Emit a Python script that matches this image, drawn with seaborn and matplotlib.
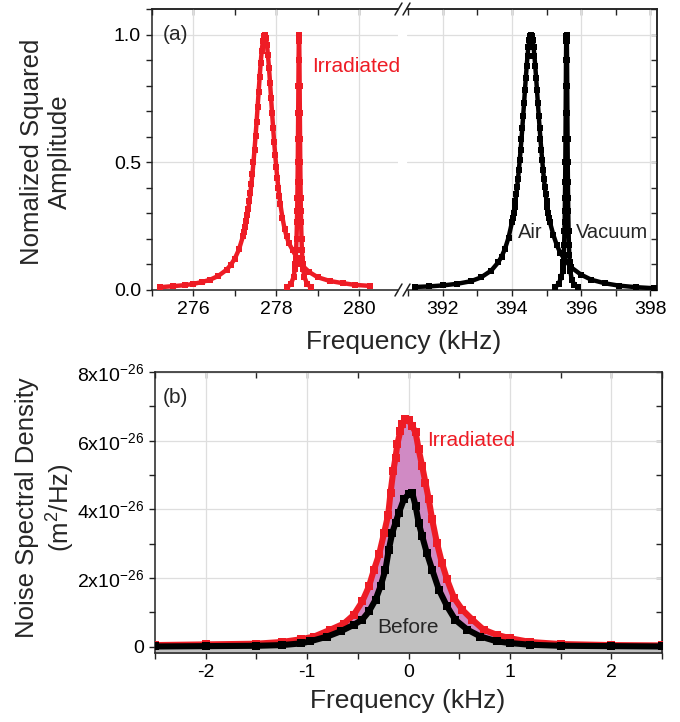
import seaborn as sns
import matplotlib.pyplot as plt
from matplotlib.ticker import MultipleLocator, FixedLocator

sns.set_style('ticks')
plt.rcParams['font.family'] = ['Liberation Sans', 'DejaVu Sans']
plt.rcParams['mathtext.fontset'] = 'custom'
plt.rcParams['mathtext.rm'] = 'Liberation Sans'
plt.rcParams['mathtext.it'] = 'Liberation Sans:italic'
plt.rcParams['mathtext.bf'] = 'Liberation Sans:bold'
plt.rcParams['axes.unicode_minus'] = False

RED = '#ee1c25'
BLACK = '#000000'
PURPLE = '#d08ac4'
GRAY = '#c0c0c0'

# ---- panel (a): normalized squared amplitude vs frequency (kHz) ----
irr_air_f = [275.2, 275.5, 275.8, 276.0, 276.2, 276.4, 276.6, 276.8, 276.9, 277.0, 277.1,
             277.2, 277.225, 277.25, 277.275, 277.3, 277.325, 277.35, 277.375, 277.4,
             277.425, 277.45, 277.475, 277.5, 277.525, 277.55, 277.575, 277.6, 277.625,
             277.65, 277.675, 277.7, 277.725, 277.75, 277.775, 277.8, 277.825, 277.85,
             277.875, 277.9, 277.925, 277.95, 277.975, 278.0, 278.025, 278.05, 278.075,
             278.1, 278.15, 278.2, 278.25, 278.3, 278.4, 278.5, 278.6, 278.8, 279.0,
             279.3, 279.6, 279.9, 280.27]
irr_air_a = [0.011, 0.015, 0.019, 0.024, 0.031, 0.040, 0.055, 0.079, 0.098, 0.123, 0.159,
             0.212, 0.229, 0.248, 0.269, 0.292, 0.318, 0.347, 0.380, 0.416,
             0.456, 0.500, 0.549, 0.601, 0.657, 0.716, 0.776, 0.835, 0.890,
             0.937, 0.973, 0.995, 1.000, 0.988, 0.960, 0.919, 0.869, 0.812,
             0.752, 0.692, 0.634, 0.579, 0.528, 0.482, 0.439, 0.401, 0.367,
             0.335, 0.283, 0.240, 0.210, 0.185, 0.155, 0.125, 0.100, 0.070, 0.050,
             0.035, 0.027, 0.020, 0.016]

irr_vac_f = [278.25, 278.35, 278.42, 278.45, 278.46, 278.47, 278.48, 278.49, 278.5,
             278.505, 278.51, 278.515, 278.52, 278.525, 278.53, 278.535, 278.54, 278.545,
             278.55, 278.555, 278.56, 278.565, 278.57, 278.575, 278.58, 278.585,
             278.59, 278.595, 278.6, 278.61, 278.62, 278.63, 278.64, 278.65, 278.68,
             278.75, 278.85]
irr_vac_a = [0.010, 0.022, 0.051, 0.083, 0.100, 0.123, 0.155, 0.200, 0.265,
             0.308, 0.360, 0.424, 0.500, 0.590, 0.692, 0.800, 0.900, 0.973,
             1.000, 0.973, 0.900, 0.800, 0.692, 0.590, 0.500, 0.424,
             0.360, 0.308, 0.265, 0.200, 0.155, 0.123, 0.100, 0.083, 0.051,
             0.022, 0.010]

air_f = [391.2, 391.6, 392.0, 392.4, 392.8, 393.1, 393.4, 393.6, 393.7, 393.8, 393.9,
         394.0, 394.025, 394.05, 394.075, 394.1, 394.125, 394.15, 394.175, 394.2,
         394.225, 394.25, 394.275, 394.3, 394.325, 394.35, 394.375, 394.4, 394.425,
         394.45, 394.475, 394.5, 394.525, 394.55, 394.575, 394.6, 394.625, 394.65,
         394.675, 394.7, 394.725, 394.75, 394.775, 394.8, 394.825, 394.85, 394.875,
         394.9, 394.925, 394.95, 394.975, 395.0, 395.025, 395.05, 395.075, 395.1,
         395.2, 395.3, 395.4, 395.5, 395.7, 396.0, 396.3, 396.7, 397.1, 397.6, 398.1]
air_a = [0.012, 0.014, 0.018, 0.024, 0.034, 0.049, 0.076, 0.108, 0.131, 0.162, 0.205,
         0.265, 0.283, 0.303, 0.326, 0.350, 0.376, 0.405, 0.436, 0.471,
         0.508, 0.548, 0.590, 0.635, 0.683, 0.731, 0.781, 0.829, 0.875,
         0.916, 0.951, 0.978, 0.994, 1.000, 0.994, 0.978, 0.951, 0.916,
         0.875, 0.829, 0.781, 0.731, 0.683, 0.635, 0.590, 0.548, 0.508,
         0.471, 0.436, 0.405, 0.376, 0.350, 0.326, 0.303, 0.283, 0.265,
         0.215, 0.175, 0.145, 0.125, 0.090, 0.060, 0.040, 0.026, 0.017, 0.011, 0.007]

vac_f = [395.25, 395.35, 395.43, 395.47, 395.48, 395.49, 395.5, 395.51, 395.52,
         395.525, 395.53, 395.535, 395.54, 395.545, 395.55, 395.555, 395.56, 395.565,
         395.57, 395.575, 395.58, 395.585, 395.59, 395.595, 395.6, 395.605, 395.61,
         395.615, 395.62, 395.625, 395.63, 395.64, 395.65, 395.66, 395.67, 395.68,
         395.69, 395.73, 395.81, 395.9]
vac_a = [0.011, 0.023, 0.052, 0.076, 0.090, 0.110, 0.137, 0.175, 0.230,
         0.265, 0.308, 0.360, 0.424, 0.500, 0.590, 0.692, 0.800, 0.900,
         0.973, 0.995, 1.000, 0.995, 0.973, 0.900, 0.800, 0.692, 0.590,
         0.500, 0.424, 0.360, 0.308, 0.230, 0.175, 0.137, 0.110, 0.090,
         0.076, 0.040, 0.020, 0.012]

# ---- panel (b): noise spectral density (units of 1e-26 m^2/Hz) ----
irr_nsd_f = [-2.5, -2.0, -1.5, -1.25, -1.06, -0.93, -0.77, -0.64, -0.54, -0.456,
             -0.39, -0.34, -0.29, -0.24, -0.2, -0.177, -0.15, -0.128, -0.11, -0.08,
             -0.06, -0.03, 0.0, 0.036, 0.07, 0.1, 0.135, 0.167, 0.2, 0.233,
             0.28, 0.33, 0.38, 0.45, 0.53, 0.63, 0.74, 0.87, 1.0, 1.2,
             1.5, 2.0, 2.5]
irr_nsd = [0.05, 0.07, 0.09, 0.14, 0.22, 0.30, 0.50, 0.67, 0.93, 1.32,
           1.76, 2.25, 2.69, 3.32, 3.85, 4.49, 5.12, 5.51, 5.90, 6.29,
           6.50, 6.63, 6.60, 6.43, 6.24, 5.75, 5.26, 4.78, 4.29, 3.71,
           3.03, 2.44, 1.96, 1.42, 1.08, 0.79, 0.50, 0.35, 0.25, 0.14,
           0.08, 0.05, 0.04]

bef_nsd_f = [-2.5, -2.0, -1.5, -1.25, -1.06, -0.97, -0.8, -0.67, -0.54, -0.456,
             -0.39, -0.325, -0.276, -0.227, -0.194, -0.16, -0.128, -0.095, -0.046, 0.0,
             0.036, 0.07, 0.1, 0.135, 0.18, 0.233, 0.3, 0.38, 0.46, 0.58,
             0.71, 0.87, 1.0, 1.2, 1.5, 2.0, 2.5]
bef_nsd = [0.01, 0.02, 0.03, 0.05, 0.10, 0.16, 0.30, 0.45, 0.64, 0.79,
           1.03, 1.37, 1.76, 2.25, 2.83, 3.32, 3.61, 3.90, 4.29, 4.44,
           4.49, 4.10, 3.61, 3.22, 2.74, 2.25, 1.66, 1.18, 0.79, 0.50,
           0.30, 0.16, 0.11, 0.06, 0.03, 0.02, 0.01]


def fx(px):
    return px / 680


def fy(py):
    return 1 - py / 722


fig = plt.figure(figsize=(6.8, 7.22), dpi=100)
axL = fig.add_axes([fx(152), fy(290), fx(398) - fx(152), fy(9) - fy(290)])
axR = fig.add_axes([fx(407), fy(290), fx(657) - fx(407), fy(9) - fy(290)])
axB = fig.add_axes([fx(155), fy(653), fx(662) - fx(155), fy(372) - fy(653)])


def curve(ax, x, y, color, ms, lw):
    sns.lineplot(x=x, y=y, ax=ax, color=color, marker='s', markersize=ms,
                 markeredgewidth=0, linewidth=lw, sort=False, zorder=3)


# top panel curves
curve(axL, irr_air_f, irr_air_a, RED, 4.0, 3.2)
curve(axL, irr_vac_f, irr_vac_a, RED, 4.0, 3.2)
curve(axR, air_f, air_a, BLACK, 4.0, 3.2)
curve(axR, vac_f, vac_a, BLACK, 4.0, 3.2)

# bottom panel: fills then curves
axB.fill_between(irr_nsd_f, irr_nsd, -0.2, color=PURPLE, lw=0, zorder=1)
axB.fill_between(bef_nsd_f, bef_nsd, -0.2, color=GRAY, lw=0, zorder=2)
curve(axB, irr_nsd_f, irr_nsd, RED, 5.5, 4.4)
curve(axB, bef_nsd_f, bef_nsd, BLACK, 5.5, 4.4)

# axes styling
for ax in (axL, axR, axB):
    for s in ax.spines.values():
        s.set_linewidth(1.1)
        s.set_color('#222222')
    ax.grid(True, color='#dedede', lw=0.9, zorder=0)
    ax.set_axisbelow(True)
    ax.tick_params(which='both', direction='out', labelsize=14, width=1.0,
                   colors='#222222', labelcolor='black')
    ax.tick_params(which='major', length=4.5)
    ax.tick_params(which='minor', length=4.0)
    ax.set_xlabel('')
    ax.set_ylabel('')

axL.set_xlim(275.0, 280.94)
axR.set_xlim(390.96, 398.2)
for ax in (axL, axR):
    ax.set_ylim(0, 1.1)
    ax.xaxis.set_major_locator(MultipleLocator(2))
    ax.xaxis.set_minor_locator(MultipleLocator(1))
    ax.yaxis.set_major_locator(FixedLocator([0, 0.5, 1.0]))
    ax.yaxis.set_minor_locator(MultipleLocator(0.1))
    top = ax.secondary_xaxis('top')
    top.xaxis.set_major_locator(MultipleLocator(1))
    top.tick_params(direction='in', length=4.5, labeltop=False, width=1.0)
    top.spines['top'].set_linewidth(1.1)

axL.set_yticklabels(['0.0', '0.5', '1.0'])
axL.spines['right'].set_visible(False)
axR.spines['left'].set_visible(False)
axR.tick_params(axis='y', which='both', left=False, labelleft=False)
right = axR.secondary_yaxis('right')
right.yaxis.set_major_locator(MultipleLocator(0.1))
right.tick_params(direction='in', length=4.5, labelright=False, width=1.0)
right.spines['right'].set_linewidth(1.1)

axB.set_xlim(-2.5, 2.5)
axB.set_ylim(-0.18, 8)
axB.xaxis.set_major_locator(MultipleLocator(1))
axB.xaxis.set_minor_locator(MultipleLocator(0.5))
axB.yaxis.set_major_locator(FixedLocator([0, 2, 4, 6, 8]))
axB.yaxis.set_minor_locator(MultipleLocator(1))
axB.set_yticklabels(['0'] + [r'%dx10$^{-26}$' % v for v in (2, 4, 6, 8)])
topB = axB.secondary_xaxis('top')
topB.xaxis.set_major_locator(MultipleLocator(0.5))
topB.tick_params(direction='in', length=4.5, labeltop=False, width=1.0)
rightB = axB.secondary_yaxis('right')
rightB.yaxis.set_major_locator(MultipleLocator(1))
rightB.tick_params(direction='in', length=4.5, labelright=False, width=1.0)

# axis break marks
for py in (9, 290):
    for x0 in (395, 403):
        fig.add_artist(plt.Line2D([fx(x0), fx(x0 + 7)], [fy(py + 6), fy(py - 6)],
                                  color='#222222', lw=1.1))

# labels
fig.text(fx(404), fy(342), 'Frequency (kHz)', fontsize=19, ha='center', va='center')
fig.text(fx(46), fy(152), 'Nomalized Squared\nAmplitude', fontsize=18.5,
         ha='center', va='center', rotation=90, linespacing=1.2)
fig.text(fx(408), fy(701), 'Frequency (kHz)', fontsize=19, ha='center', va='center')
fig.text(fx(46), fy(508), 'Noise Spectral Density\n(m$^2$/Hz)', fontsize=18.5,
         ha='center', va='center', rotation=90, linespacing=1.2)

# annotations
axL.text(275.25, 1.0, '(a)', fontsize=15, va='center', ha='left')
axL.text(278.87, 0.875, 'Irradiated', fontsize=15, color=RED, va='center', ha='left')
axR.text(394.17, 0.224, 'Air', fontsize=14.5, va='center', ha='left')
axR.text(395.86, 0.224, 'Vacuum', fontsize=14.5, va='center', ha='left')
axB.text(-2.42, 7.27, '(b)', fontsize=15, va='center', ha='left')
axB.text(0.187, 6.01, 'Irradiated', fontsize=15, color=RED, va='center', ha='left')
axB.text(-0.31, 0.55, 'Before', fontsize=15, va='center', ha='left')

fig.savefig('out.png', dpi=100)
